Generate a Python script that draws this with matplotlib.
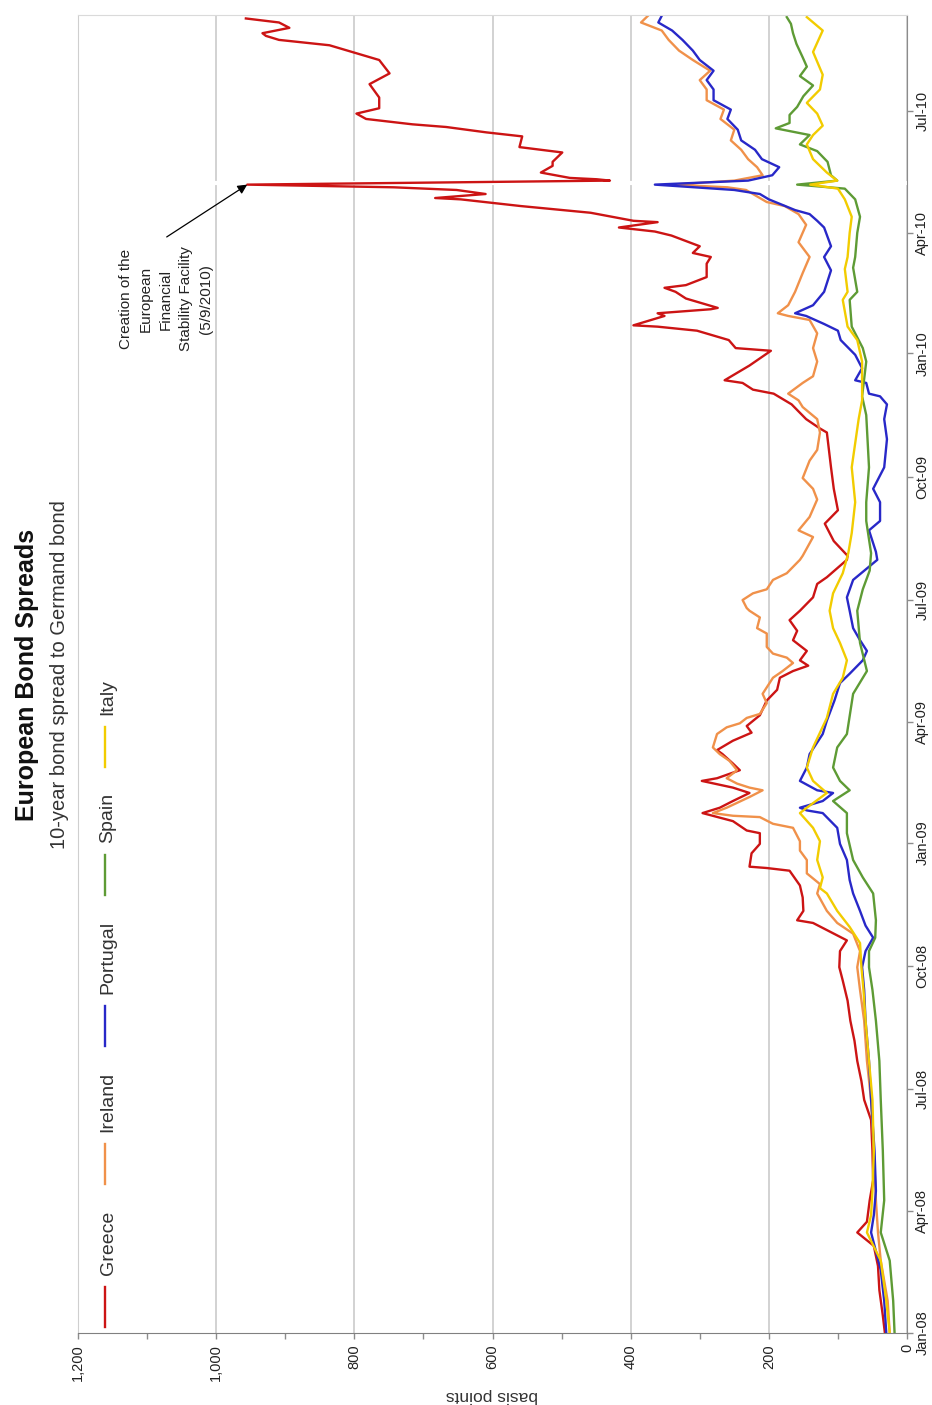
import matplotlib
matplotlib.use("Agg")
import matplotlib.pyplot as plt
import matplotlib.dates as mdates
from matplotlib import font_manager
from matplotlib.lines import Line2D
from matplotlib.ticker import MultipleLocator, FuncFormatter
import pandas as pd

# 10-year spreads over the German bund, basis points
greece_dates = [
    "2008-01-01", "2008-01-14", "2008-02-02", "2008-02-20", "2008-03-06", "2008-03-16",
    "2008-03-24", "2008-04-09", "2008-04-24", "2008-05-16", "2008-06-08", "2008-06-23",
    "2008-07-07", "2008-07-22", "2008-08-06", "2008-08-21", "2008-09-05", "2008-09-20",
    "2008-09-30", "2008-10-12", "2008-10-20", "2008-11-02", "2008-11-04", "2008-11-11",
    "2008-11-21", "2008-11-30", "2008-12-11", "2008-12-13", "2008-12-14", "2008-12-24",
    "2008-12-31", "2009-01-08", "2009-01-10", "2009-01-17", "2009-01-23", "2009-01-27",
    "2009-02-01", "2009-02-07", "2009-02-11", "2009-02-16", "2009-02-18", "2009-02-24",
    "2009-03-01", "2009-03-08", "2009-03-11", "2009-03-18", "2009-03-24", "2009-03-29",
    "2009-04-06", "2009-04-17", "2009-04-25", "2009-05-04", "2009-05-09", "2009-05-13",
    "2009-05-17", "2009-05-24", "2009-06-01", "2009-06-08", "2009-06-16", "2009-06-23",
    "2009-07-03", "2009-07-13", "2009-07-18", "2009-07-31", "2009-08-03", "2009-08-14",
    "2009-08-27", "2009-09-06", "2009-09-22", "2009-10-08", "2009-11-03", "2009-11-06",
    "2009-11-13", "2009-11-24", "2009-12-02", "2009-12-05", "2009-12-10", "2009-12-12",
    "2009-12-23", "2010-01-03", "2010-01-05", "2010-01-11", "2010-01-18", "2010-01-21",
    "2010-01-22", "2010-01-29", "2010-01-31", "2010-02-03", "2010-02-04", "2010-02-11",
    "2010-02-16", "2010-02-19", "2010-02-21", "2010-02-27", "2010-03-09", "2010-03-14",
    "2010-03-17", "2010-03-22", "2010-03-30", "2010-04-02", "2010-04-05", "2010-04-09",
    "2010-04-10", "2010-04-16", "2010-04-21", "2010-04-26", "2010-04-27", "2010-04-30",
    "2010-05-03", "2010-05-05", "2010-05-07", "2010-05-10", "2010-05-11", "2010-05-12",
    "2010-05-16", "2010-05-21", "2010-05-24", "2010-05-31", "2010-06-04", "2010-06-12",
    "2010-06-15", "2010-06-19", "2010-06-21", "2010-06-25", "2010-06-29", "2010-07-03",
    "2010-07-11", "2010-07-21", "2010-07-29", "2010-08-08", "2010-08-14", "2010-08-19",
    "2010-08-23", "2010-08-26", "2010-08-28", "2010-09-01", "2010-09-05", "2010-09-08",
]
greece_bp = [
    32, 35, 40, 42, 48, 72, 58, 54, 49, 50, 52, 62,
    66, 72, 76, 82, 86, 93, 98, 97, 87, 136, 159, 150,
    151, 155, 170, 203, 228, 225, 213, 213, 232, 252, 296, 271,
    252, 228, 252, 297, 275, 242, 252, 267, 275, 252, 225, 232,
    213, 203, 188, 184, 165, 143, 155, 145, 165, 159, 170, 155,
    136, 130, 116, 87, 86, 106, 119, 100, 106, 110, 116, 126,
    146, 167, 193, 223, 238, 264, 228, 197, 248, 258, 304, 361,
    396, 351, 361, 284, 274, 320, 335, 351, 320, 290, 290, 284,
    310, 300, 341, 365, 417, 361, 396, 458, 559, 646, 683, 610,
    652, 743, 955, 430, 449, 488, 530, 513, 513, 499, 561, 557,
    609, 667, 716, 783, 797, 764, 764, 778, 749, 764, 803, 836,
    909, 928, 933, 894, 909, 957,
]

ireland_dates = [
    "2008-01-01", "2008-01-25", "2008-02-24", "2008-03-16", "2008-04-09", "2008-05-16",
    "2008-06-23", "2008-07-22", "2008-08-21", "2008-09-13", "2008-09-30", "2008-10-12",
    "2008-10-25", "2008-11-02", "2008-11-11", "2008-11-24", "2008-12-01", "2008-12-09",
    "2008-12-19", "2008-12-26", "2009-01-02", "2009-01-12", "2009-01-15", "2009-01-20",
    "2009-01-21", "2009-01-23", "2009-01-27", "2009-02-04", "2009-02-09", "2009-02-11",
    "2009-02-14", "2009-02-18", "2009-02-24", "2009-03-03", "2009-03-08", "2009-03-13",
    "2009-03-23", "2009-03-28", "2009-03-31", "2009-04-04", "2009-04-07", "2009-04-15",
    "2009-04-22", "2009-04-30", "2009-05-04", "2009-05-09", "2009-05-15", "2009-05-19",
    "2009-05-22", "2009-05-27", "2009-06-06", "2009-06-10", "2009-06-18", "2009-06-23",
    "2009-06-25", "2009-07-01", "2009-07-06", "2009-07-09", "2009-07-16", "2009-07-21",
    "2009-07-31", "2009-08-03", "2009-08-17", "2009-08-22", "2009-09-01", "2009-09-14",
    "2009-09-22", "2009-09-30", "2009-10-13", "2009-10-21", "2009-11-03", "2009-11-13",
    "2009-11-22", "2009-11-27", "2009-12-02", "2009-12-10", "2009-12-15", "2009-12-26",
    "2010-01-05", "2010-01-16", "2010-01-26", "2010-01-29", "2010-01-31", "2010-02-06",
    "2010-02-16", "2010-03-02", "2010-03-14", "2010-03-25", "2010-04-07", "2010-04-15",
    "2010-04-21", "2010-04-24", "2010-04-30", "2010-05-03", "2010-05-05", "2010-05-07",
    "2010-05-10", "2010-05-14", "2010-05-20", "2010-05-26", "2010-06-02", "2010-06-09",
    "2010-06-17", "2010-06-25", "2010-07-02", "2010-07-09", "2010-07-17", "2010-07-24",
    "2010-07-31", "2010-08-08", "2010-08-15", "2010-08-23", "2010-08-30", "2010-09-05",
    "2010-09-10",
]
ireland_bp = [
    25, 28, 38, 42, 45, 48, 52, 58, 62, 68, 72, 68,
    78, 101, 116, 130, 126, 145, 145, 155, 155, 165, 194, 213,
    252, 281, 261, 228, 209, 228, 246, 261, 246, 257, 271, 281,
    275, 261, 242, 232, 213, 203, 209, 199, 194, 180, 165, 174,
    194, 203, 203, 217, 213, 228, 232, 238, 223, 203, 194, 174,
    155, 151, 136, 157, 141, 130, 136, 151, 141, 130, 126, 130,
    151, 157, 172, 151, 136, 130, 136, 130, 141, 172, 187, 172,
    162, 151, 141, 157, 146, 157, 177, 203, 223, 233, 260, 340,
    250, 209, 217, 230, 240, 255, 250, 270, 265, 290, 290, 300,
    285, 310, 330, 345, 355, 385, 375,
]

portugal_dates = [
    "2008-01-01", "2008-01-25", "2008-02-17", "2008-03-16", "2008-03-29", "2008-04-16",
    "2008-05-16", "2008-06-23", "2008-07-22", "2008-08-21", "2008-09-13", "2008-09-30",
    "2008-10-12", "2008-10-22", "2008-10-31", "2008-11-11", "2008-11-24", "2008-12-04",
    "2008-12-19", "2008-12-31", "2009-01-12", "2009-01-23", "2009-01-25", "2009-01-27",
    "2009-02-01", "2009-02-07", "2009-02-09", "2009-02-16", "2009-02-26", "2009-03-08",
    "2009-03-23", "2009-04-02", "2009-04-17", "2009-04-30", "2009-05-07", "2009-05-17",
    "2009-05-24", "2009-06-01", "2009-06-10", "2009-06-23", "2009-07-03", "2009-07-16",
    "2009-07-31", "2009-08-06", "2009-08-22", "2009-08-29", "2009-09-12", "2009-09-22",
    "2009-10-08", "2009-10-29", "2009-11-13", "2009-11-24", "2009-11-30", "2009-12-02",
    "2009-12-10", "2009-12-12", "2009-12-21", "2009-12-31", "2010-01-11", "2010-01-18",
    "2010-01-23", "2010-01-29", "2010-01-31", "2010-02-06", "2010-02-16", "2010-03-04",
    "2010-03-14", "2010-03-22", "2010-04-05", "2010-04-10", "2010-04-15", "2010-04-18",
    "2010-04-26", "2010-04-30", "2010-05-03", "2010-05-07", "2010-05-10", "2010-05-14",
    "2010-05-20", "2010-05-26", "2010-06-02", "2010-06-09", "2010-06-17", "2010-06-25",
    "2010-07-02", "2010-07-09", "2010-07-17", "2010-07-24", "2010-07-31", "2010-08-08",
    "2010-08-15", "2010-08-23", "2010-08-30", "2010-09-05", "2010-09-10",
]
portugal_bp = [
    30, 33, 38, 52, 48, 45, 47, 52, 55, 60, 62, 65,
    60, 49, 60, 68, 78, 83, 87, 97, 101, 122, 145, 155,
    122, 107, 130, 155, 145, 141, 122, 116, 105, 97, 83, 64,
    58, 68, 78, 83, 87, 78, 43, 45, 55, 39, 39, 49,
    33, 29, 33, 29, 39, 55, 59, 75, 65, 75, 96, 100,
    120, 146, 162, 136, 120, 110, 120, 110, 120, 130, 141, 162,
    200, 213, 250, 365, 230, 195, 185, 210, 220, 240, 245, 260,
    255, 280, 280, 290, 280, 300, 310, 325, 340, 360, 355,
]

spain_dates = [
    "2008-01-01", "2008-01-25", "2008-02-24", "2008-03-16", "2008-04-09", "2008-05-16",
    "2008-06-23", "2008-07-22", "2008-08-21", "2008-09-13", "2008-09-30", "2008-10-12",
    "2008-10-22", "2008-11-04", "2008-11-24", "2008-12-06", "2008-12-19", "2009-01-08",
    "2009-01-23", "2009-02-01", "2009-02-09", "2009-02-16", "2009-02-26", "2009-03-13",
    "2009-03-23", "2009-04-22", "2009-05-09", "2009-05-30", "2009-06-23", "2009-07-09",
    "2009-07-23", "2009-08-05", "2009-08-29", "2009-09-12", "2009-10-08", "2009-11-16",
    "2009-11-30", "2009-12-26", "2010-01-05", "2010-01-21", "2010-02-10", "2010-02-16",
    "2010-03-06", "2010-03-14", "2010-04-01", "2010-04-13", "2010-04-26", "2010-05-04",
    "2010-05-07", "2010-05-10", "2010-05-14", "2010-05-24", "2010-06-01", "2010-06-06",
    "2010-06-13", "2010-06-18", "2010-06-22", "2010-06-28", "2010-07-04", "2010-07-12",
    "2010-07-20", "2010-07-27", "2010-08-03", "2010-08-10", "2010-08-20", "2010-08-28",
    "2010-09-04", "2010-09-09",
]
spain_bp = [
    18, 20, 25, 38, 33, 35, 38, 40, 45, 50, 55, 55,
    46, 45, 49, 64, 78, 87, 87, 107, 83, 97, 107, 101,
    87, 78, 58, 68, 72, 64, 54, 52, 59, 59, 55, 59,
    65, 59, 64, 80, 83, 72, 78, 75, 72, 68, 75, 90,
    159, 101, 110, 115, 130, 155, 141, 190, 170, 170, 159, 150,
    136, 155, 145, 151, 160, 165, 168, 174,
]

italy_dates = [
    "2008-01-01", "2008-01-25", "2008-02-24", "2008-03-16", "2008-03-29", "2008-04-16",
    "2008-05-16", "2008-06-23", "2008-07-22", "2008-08-21", "2008-09-13", "2008-09-30",
    "2008-10-18", "2008-10-30", "2008-11-11", "2008-11-24", "2008-11-28", "2008-12-06",
    "2008-12-19", "2009-01-02", "2009-01-12", "2009-01-23", "2009-01-27", "2009-02-07",
    "2009-02-16", "2009-02-26", "2009-03-13", "2009-04-04", "2009-04-22", "2009-05-04",
    "2009-05-17", "2009-05-30", "2009-06-10", "2009-06-23", "2009-07-06", "2009-07-21",
    "2009-08-05", "2009-08-20", "2009-09-12", "2009-10-08", "2009-11-13", "2009-11-27",
    "2009-12-26", "2010-01-11", "2010-01-21", "2010-02-10", "2010-02-16", "2010-03-05",
    "2010-03-14", "2010-04-01", "2010-04-13", "2010-04-26", "2010-05-04", "2010-05-07",
    "2010-05-10", "2010-05-16", "2010-05-26", "2010-06-06", "2010-06-13", "2010-06-20",
    "2010-06-29", "2010-07-07", "2010-07-17", "2010-07-28", "2010-08-14", "2010-08-30",
    "2010-09-09",
]
italy_bp = [
    25, 30, 38, 58, 52, 50, 48, 50, 55, 60, 63, 66,
    68, 83, 101, 116, 126, 122, 130, 126, 136, 155, 145, 116,
    136, 145, 136, 116, 107, 93, 87, 97, 107, 112, 107, 93,
    85, 80, 75, 80, 70, 65, 65, 72, 86, 93, 86, 90,
    86, 83, 80, 90, 100, 140, 101, 116, 136, 145, 136, 122,
    130, 145, 126, 122, 136, 122, 145,
]

countries = ["Greece", "Ireland", "Portugal", "Spain", "Italy"]
colors = ["#CC1414", "#F0914A", "#2828C8", "#5E9B35", "#F2CC00"]
event_date = "2010-05-08"
event_note = "Creation of the\nEuropean\nFinancial\nStability Facility\n(5/9/2010)"

plt.rcParams["font.family"] = ["Liberation Sans", "DejaVu Sans"]
installed = {f.name for f in font_manager.fontManager.ttflist}
if "Liberation Sans Narrow" in installed:
    narrow, tick_fs, note_fs = "Liberation Sans Narrow", 13, 12.5
else:
    narrow, tick_fs, note_fs = "Liberation Sans", 10.5, 11

W, H = 932, 1405
fig = plt.figure(figsize=(W / 100, H / 100), dpi=100)
ax = fig.add_axes([78 / W, 72 / H, 829 / W, 1318 / H])

series = [
    (greece_dates, greece_bp),
    (ireland_dates, ireland_bp),
    (portugal_dates, portugal_bp),
    (spain_dates, spain_bp),
    (italy_dates, italy_bp),
]
for (dates, vals), color in zip(series, colors):
    ax.plot(vals, pd.to_datetime(dates), color=color, lw=1.7, zorder=2)

ax.axhline(pd.Timestamp(event_date), color="white", lw=3, zorder=1.5)

ax.set_xlim(1200, 0)
ax.set_ylim(pd.Timestamp("2008-01-01"), pd.Timestamp("2010-09-10 14:00"))

ax.xaxis.set_major_locator(MultipleLocator(200))
ax.xaxis.set_minor_locator(MultipleLocator(100))
ax.xaxis.set_major_formatter(FuncFormatter(lambda v, p: f"{v:,.0f}"))
ax.tick_params(axis="x", which="both", direction="out", length=4, width=1,
               color="#8C8C8C", labelrotation=90, pad=4,
               labelsize=tick_fs, labelcolor="#222222")
for t in ax.get_xticklabels():
    t.set_fontfamily(narrow)

ax.yaxis.tick_right()
ax.yaxis.set_major_locator(mdates.MonthLocator(bymonth=[1, 4, 7, 10]))
ax.yaxis.set_major_formatter(mdates.DateFormatter("%b-%y"))
ax.tick_params(axis="y", direction="out", length=4, width=1, color="#8C8C8C",
               labelrotation=90, pad=2, labelsize=tick_fs, labelcolor="#222222")
for t in ax.get_yticklabels():
    t.set_fontfamily(narrow)
    t.set_verticalalignment("center")

ax.grid(axis="x", color="#CFCFCF", lw=1.3)
ax.set_axisbelow(True)
ax.spines["top"].set_color("#DADADA")
ax.spines["left"].set_color("#CFCFCF")
ax.spines["bottom"].set_color("#808080")
ax.spines["right"].set_color("#8C8C8C")

# note on the Greek spike
peak = greece_bp.index(max(greece_bp[:greece_dates.index("2010-05-10")]))
ax.annotate("", xy=(greece_bp[peak], pd.Timestamp(greece_dates[peak])),
            xytext=(0.107, 0.8316), textcoords="axes fraction",
            arrowprops=dict(arrowstyle="-|>", color="black", lw=0.9,
                            shrinkA=0, shrinkB=0, mutation_scale=14))
ax.text(0.106, 0.7845, event_note, transform=ax.transAxes, rotation=90,
        ha="center", va="center", multialignment="center",
        family=narrow, fontsize=note_fs, linespacing=1.55, color="#222222")

# rotated legend down the left margin
legend_px = [(1287, 1327, 1275), (1144, 1184, 1132), (1006, 1046, 994),
             (855, 895, 843), (727, 767, 715)]
for name, color, (h0, h1, tb) in zip(countries, colors, legend_px):
    fig.add_artist(Line2D([105 / W, 105 / W], [1 - h0 / H, 1 - h1 / H],
                          transform=fig.transFigure, color=color, lw=1.7))
    fig.text(108 / W, 1 - tb / H, name, rotation=90, ha="center", va="bottom",
             fontsize=14, color="#333333")

fig.text(27 / W, 1 - 675 / H, "European Bond Spreads", rotation=90,
         ha="center", va="center", fontsize=18, weight="bold", color="#111111")
fig.text(60 / W, 1 - 675 / H, "10-year bond spread to Germand bond", rotation=90,
         ha="center", va="center", fontsize=14.5, color="#333333")
fig.text(492 / W, 1 - 1396 / H, "basis points", rotation=180,
         ha="center", va="center", fontsize=12.5, color="#333333")

fig.savefig("out.png", dpi=100, facecolor="white")
